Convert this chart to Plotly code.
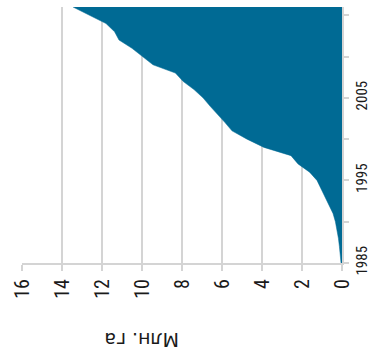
import plotly.graph_objects as go

years = list(range(1985, 2017))
area_mln_ha = [0.05, 0.08, 0.13, 0.18, 0.24, 0.33, 0.45, 0.65, 0.87, 1.03,
               1.25, 1.62, 2.2, 2.55, 3.9, 4.75, 5.5, 5.85, 6.25, 6.6,
               6.95, 7.4, 7.95, 8.33, 9.45, 10.0, 10.5, 11.15, 11.37, 11.8,
               12.6, 13.45]

x_ticks = [0, 2, 4, 6, 8, 10, 12, 14, 16]
x_ticktext = ["0", "2", "4", "6", "8", "10", "12", "14", "16"]
y_ticks = [1985, 1990, 1995, 2000, 2005, 2010, 2015]
y_ticktext = ["1985", "", "1995", "", "2005", "", "2015"]
axis_title = "Млн. га"

fill_col = "#006a94"
grid_col = "#d4d4d4"
narrow = "Liberation Sans Narrow, Roboto Condensed, Arial Narrow, sans-serif"

fig = go.Figure()
fig.add_trace(go.Scatter(
    x=area_mln_ha, y=years, mode="lines", fill="tozerox",
    line=dict(width=0.5, color=fill_col), fillcolor=fill_col,
    hoverinfo="skip", showlegend=False,
))

fig.update_layout(
    width=371, height=354,
    margin=dict(l=22, r=29, t=7, b=91, autoexpand=False),
    plot_bgcolor="white", paper_bgcolor="white",
    showlegend=False,
    xaxis=dict(
        range=[16, 0], tickvals=x_ticks, ticktext=x_ticktext, automargin=False,
        tickangle=-90, tickfont=dict(family=narrow, size=20, color="#1a1a1a"),
        showgrid=True, gridcolor=grid_col, gridwidth=2,
        zeroline=False, showline=True, linecolor=grid_col, linewidth=2,
        ticks="outside", ticklen=6, tickcolor=grid_col, tickwidth=2,
    ),
    yaxis=dict(
        range=[1985, 2016], side="right", tickvals=y_ticks, ticktext=y_ticktext,
        automargin=False, ticklabelstandoff=0,
        tickangle=-90, tickfont=dict(family=narrow, size=15, color="#1a1a1a"),
        showgrid=False, zeroline=False, showline=True, linecolor=grid_col, linewidth=2,
        ticks="outside", ticklen=5, tickcolor=grid_col, tickwidth=2,
    ),
    annotations=[dict(
        text=axis_title, x=10, xref="x", y=-0.30, yref="paper",
        xanchor="center", yanchor="middle", showarrow=False, textangle=180,
        font=dict(family="DejaVu Sans, sans-serif", size=19, color="#1a1a1a"),
    )],
)

fig.write_html(
    "out.html",
    config={"displayModeBar": False, "staticPlot": True},
    post_script="document.body.style.margin='0';document.body.style.overflow='hidden';",
)
